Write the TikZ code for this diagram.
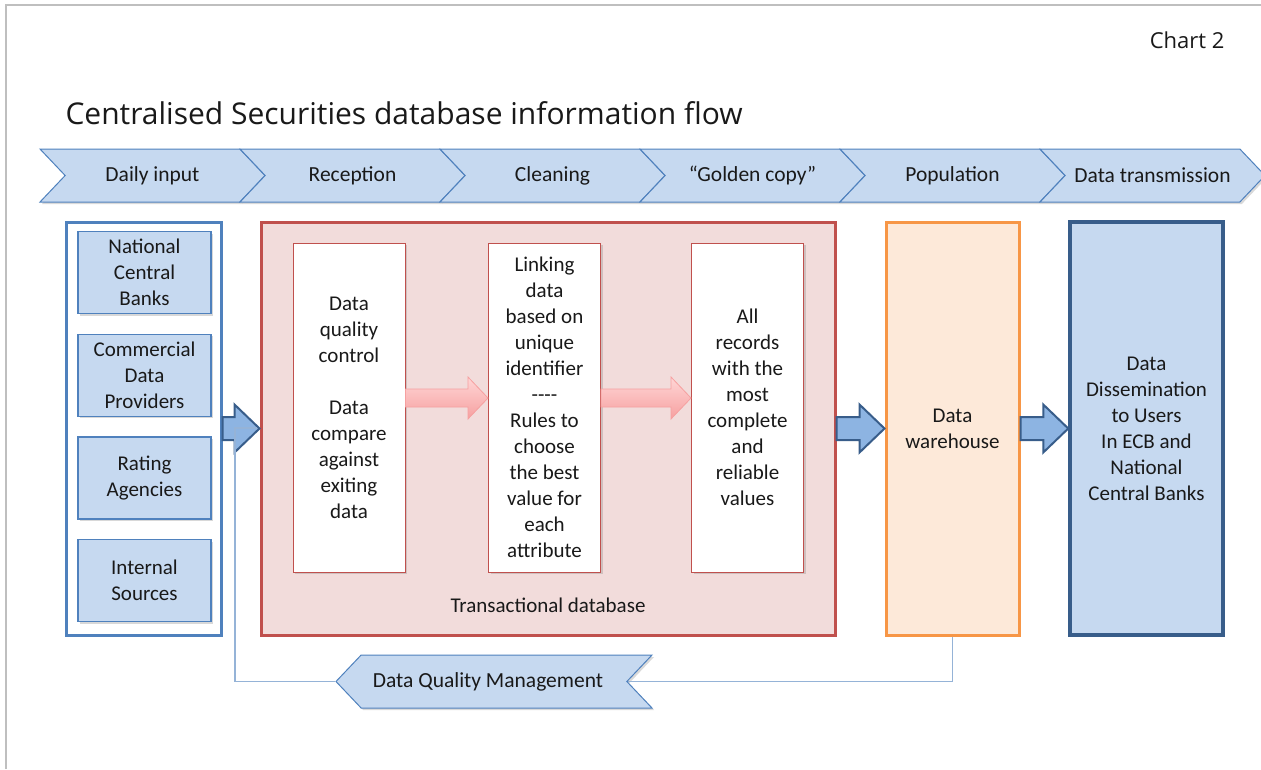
\documentclass[tikz,border=0pt]{standalone}
\usepackage{fontspec}
\setmainfont{Carlito}
\newfontfamily\headfont{Open Sans}
\usepackage{tikz}
\usetikzlibrary{arrows.meta,positioning,calc,shapes.symbols,shadows}
\definecolor{framegray}{RGB}{191,191,191}
\definecolor{blue2}{RGB}{79,129,189}
\definecolor{paleblue}{RGB}{198,217,240}
\definecolor{navy}{RGB}{56,93,138}
\definecolor{midblue}{RGB}{141,180,226}
\definecolor{red2}{RGB}{192,80,77}
\definecolor{lightred}{RGB}{242,220,219}
\definecolor{pink1}{RGB}{255,214,214}
\definecolor{pink2}{RGB}{246,160,160}
\definecolor{orange2}{RGB}{247,150,70}
\definecolor{lightorange}{RGB}{253,233,217}
\definecolor{linkblue}{RGB}{149,179,215}
\definecolor{ink}{RGB}{25,25,25}
\tikzset{
  softshadow/.style={drop shadow={shadow xshift=2pt, shadow yshift=-2pt, opacity=0.3}},
  stage/.style={signal, signal to=east, signal from=west, signal pointer angle=93,
    draw=blue2, fill=paleblue, line width=1pt, minimum width=225pt, minimum height=53pt,
    inner sep=0pt, text=ink, font=\fontsize{21.5}{26}\selectfont, softshadow},
  backstage/.style={stage, signal to=west, signal from=east},
  srcframe/.style={draw=blue2, line width=3pt, fill=white, minimum width=155pt, minimum height=413pt},
  srcbox/.style={draw=blue2, line width=1.2pt, fill=paleblue, minimum width=133pt, minimum height=82pt,
    align=center, text=ink, font=\fontsize{21}{26}\selectfont, softshadow},
  dbframe/.style={draw=red2, line width=3pt, fill=lightred, minimum width=574pt, minimum height=413pt},
  stepbox/.style={draw=red2, line width=1pt, fill=white, minimum width=112pt, minimum height=329pt,
    align=center, text=ink, font=\fontsize{21}{26}\selectfont, softshadow},
  whbox/.style={draw=orange2, line width=3pt, fill=lightorange, minimum width=133pt, minimum height=413pt,
    align=center, text=ink, font=\fontsize{21}{26}\selectfont},
  userbox/.style={draw=navy, line width=3.5pt, fill=paleblue, minimum width=153pt, minimum height=413pt,
    align=center, text=ink, font=\fontsize{21}{26}\selectfont},
  bigflow/.style={draw=navy, line width=2pt, fill=midblue, line join=miter},
  pinkflow/.style={draw=pink2, line width=0.8pt, top color=pink1, bottom color=pink2},
  feedback/.style={draw=linkblue, line width=1.5pt}
}
% block arrow between two nodes: style, from, to, lift, half shaft, half head, head length
\newcommand{\fatarrow}[7]{%
  \path[#1] let \p1=(#2.east), \p2=(#3.west) in
    (\x1,\y2+#4+#5) -- (\x2-#7,\y2+#4+#5) -- (\x2-#7,\y2+#4+#6) -- (\x2,\y2+#4)
    -- (\x2-#7,\y2+#4-#6) -- (\x2-#7,\y2+#4-#5) -- (\x1,\y2+#4-#5) -- cycle;}

\begin{document}
\begin{tikzpicture}[x=1pt, y=-1pt]
\useasboundingbox (0,0) rectangle (1261,769);
\draw[framegray, line width=2pt] (6,769) -- (6,5) -- (1261,5);

\node[anchor=east, text=ink, font=\headfont\fontsize{22}{26}\selectfont] (chart) at (1228,40) {Chart 2};
\node[anchor=west, text=ink, font=\headfont\fontsize{30}{34}\selectfont] (title) at (62,113)
  {Centralised Securities database information flow};

% process stages
\node[stage] (s1) at (152.5,175.5) {Daily input};
\node[stage] (s2) at (352.5,175.5) {Reception};
\node[stage] (s3) at (552.5,175.5) {Cleaning};
\node[stage] (s4) at (752.5,175.5) {``Golden copy''};
\node[stage] (s5) at (952.5,175.5) {Population};
\node[stage] (s6) at (1152.5,175.5) {Data transmission};

% data sources
\node[srcframe] (inp) at (143.5,428.5) {};
\node[srcbox] (ncb) at (144.5,272.5) {National\\Central\\Banks};
\node[srcbox, below=19.5pt of ncb] (cdp) {Commercial\\Data\\Providers};
\node[srcbox, below=19.5pt of cdp] (rat) {Rating\\Agencies};
\node[srcbox, below=19.5pt of rat] (int) {Internal\\Sources};

% transactional database
\node[dbframe] (tdb) at (548,428.5) {};
\node[text=ink, font=\fontsize{21}{26}\selectfont] (tdblabel) at ($(tdb.south)+(0,-31)$) {Transactional database};
\node[stepbox] (dqc) at (349,407.5) {Data\\quality\\control\\[26pt]Data\\compare\\against\\exiting\\data};
\node[stepbox] (lnk) at (544.5,407.5) {Linking\\data\\based on\\unique\\identifier\\-{}-{}-{}-\\Rules to\\choose\\the best\\value for\\each\\attribute};
\node[stepbox] (gold) at (747.5,407.5) {All\\records\\with the\\most\\complete\\and\\reliable\\values};

\node[whbox] (dw) at (952.5,428.5) {Data\\warehouse};
\node[userbox] (diss) at (1146.5,428.5) {Data\\Dissemination\\to Users\\In ECB and\\National\\Central Banks};

\node[backstage, minimum width=316pt] (dqm) at (494,681.5) {Data Quality Management\kern12pt};

% flows
\fatarrow{bigflow}{inp}{tdb}{0pt}{11.5pt}{24pt}{25pt}
\fatarrow{pinkflow}{dqc}{lnk}{9.5pt}{9pt}{21pt}{20pt}
\fatarrow{pinkflow}{lnk}{gold}{9.5pt}{9pt}{21pt}{20pt}
\fatarrow{bigflow}{tdb}{dw}{0pt}{11.5pt}{24pt}{25pt}
\fatarrow{bigflow}{dw}{diss}{0pt}{11.5pt}{24pt}{25pt}

% quality feedback loop
\coordinate (back) at (235,428);
\draw[feedback] (dw.south) |- (dqm.east);
\draw[feedback] (dqm.west) -| (back) -- ++(22,0);
\end{tikzpicture}
\end{document}
